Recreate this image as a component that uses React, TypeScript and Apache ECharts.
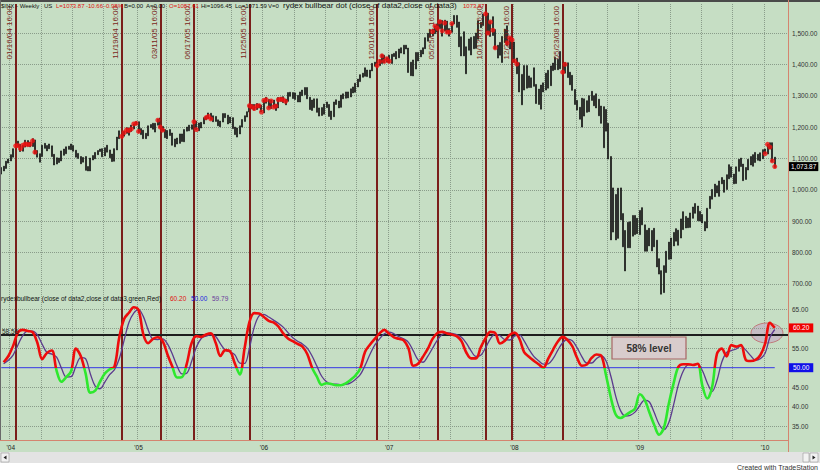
import React, { useEffect, useRef } from "react";
import * as echarts from "echarts";

// ---------- DATA ----------
const START_WEEK = [2003, 11, 5]; // first weekly bar (Fri 5 Dec 2003)
const EXTRA_WEEKS = 5; // empty space to the right of the last bar

const weekHigh = [
  1071, 1075, 1091, 1098,
  1112, 1131, 1141, 1155, 1145, 1143, 1158, 1157, 1152, 1163, 1159, 1125, 1115, 1142, 1148, 1141, 1146, 1140, 1113, 1102, 1101, 1124, 1130, 1137, 1139, 1146, 1141, 1126, 1116, 1106, 1103, 1106, 1074, 1101, 1109, 1119, 1125, 1130, 1131, 1134, 1142, 1127, 1114, 1131, 1168, 1188, 1185, 1186, 1198, 1197, 1206, 1210, 1217,
  1217, 1195, 1190, 1180, 1204, 1208, 1212, 1212, 1225, 1229, 1202, 1192, 1189, 1192, 1181, 1162, 1165, 1178, 1178, 1192, 1200, 1206, 1207, 1220, 1219, 1213, 1215, 1230, 1234, 1245, 1244, 1236, 1234, 1223, 1219, 1243, 1243, 1238, 1232, 1230, 1200, 1197, 1204, 1224, 1236, 1249, 1270, 1272, 1272, 1275, 1272, 1270,
  1286, 1295, 1288, 1286, 1286, 1272, 1294, 1295, 1297, 1289, 1310, 1311, 1310, 1309, 1301, 1312, 1318, 1326, 1326, 1295, 1286, 1290, 1290, 1261, 1262, 1273, 1280, 1272, 1251, 1280, 1287, 1283, 1302, 1306, 1312, 1312, 1322, 1328, 1340, 1353, 1367, 1372, 1389, 1382, 1382, 1403, 1407, 1403, 1415, 1431, 1429, 1421,
  1429, 1432, 1435, 1441, 1449, 1453, 1461, 1461, 1452, 1407, 1414, 1438, 1438, 1445, 1453, 1485, 1499, 1510, 1513, 1523, 1529, 1540, 1540, 1541, 1538, 1514, 1532, 1556, 1556, 1535, 1488, 1504, 1456, 1481, 1486, 1489, 1500, 1539, 1534, 1561, 1576, 1563, 1537, 1552, 1511, 1461, 1470, 1489, 1512, 1523, 1486, 1500,
  1471, 1420, 1405, 1368, 1396, 1396, 1363, 1357, 1389, 1336, 1321, 1334, 1341, 1372, 1381, 1395, 1404, 1422, 1416, 1441, 1428, 1406, 1405, 1375, 1365, 1320, 1285, 1263, 1292, 1290, 1284, 1300, 1314, 1300, 1306, 1289, 1267, 1265, 1256, 1212, 1106, 1006, 985, 1005, 1006, 924, 870, 896, 898, 918, 918, 909,
  934, 943, 888, 871, 877, 870, 877, 839, 780, 742, 758, 804, 833, 846, 864, 876, 871, 907, 930, 915, 910, 926, 945, 956, 948, 931, 921, 898, 941, 979, 1001, 1018, 1013, 1028, 1039, 1031, 1048, 1080, 1073, 1050, 1073, 1097, 1101, 1082, 1071, 1097, 1106, 1112, 1119, 1113, 1118, 1128,
  1130, 1145, 1150, 1150, 1104,
];

const weekLow = [
  1050, 1060, 1068, 1085,
  1092, 1104, 1113, 1137, 1122, 1123, 1136, 1139, 1137, 1138, 1115, 1104, 1088, 1106, 1132, 1124, 1131, 1106, 1079, 1082, 1087, 1092, 1110, 1115, 1129, 1128, 1123, 1104, 1100, 1083, 1088, 1062, 1060, 1060, 1095, 1099, 1112, 1122, 1105, 1108, 1120, 1102, 1090, 1091, 1127, 1163, 1169, 1171, 1180, 1174, 1186, 1194, 1208,
  1183, 1176, 1163, 1163, 1172, 1198, 1193, 1184, 1206, 1198, 1187, 1166, 1163, 1173, 1142, 1137, 1146, 1148, 1154, 1153, 1187, 1188, 1193, 1198, 1191, 1188, 1197, 1210, 1223, 1227, 1224, 1217, 1218, 1204, 1201, 1216, 1230, 1210, 1213, 1195, 1176, 1168, 1178, 1200, 1218, 1232, 1248, 1258, 1254, 1256, 1261, 1248,
  1245, 1276, 1260, 1259, 1263, 1253, 1261, 1282, 1278, 1271, 1282, 1298, 1291, 1288, 1280, 1280, 1300, 1303, 1290, 1256, 1253, 1262, 1247, 1235, 1237, 1241, 1262, 1234, 1224, 1233, 1272, 1261, 1263, 1290, 1292, 1293, 1296, 1309, 1311, 1328, 1345, 1359, 1362, 1361, 1357, 1379, 1394, 1385, 1396, 1403, 1405, 1407,
  1405, 1403, 1425, 1417, 1421, 1436, 1433, 1449, 1374, 1364, 1363, 1385, 1411, 1424, 1433, 1450, 1474, 1488, 1491, 1498, 1503, 1514, 1490, 1506, 1500, 1490, 1502, 1529, 1518, 1456, 1427, 1427, 1370, 1445, 1430, 1450, 1451, 1480, 1517, 1524, 1546, 1496, 1489, 1492, 1450, 1420, 1429, 1406, 1470, 1460, 1449, 1465,
  1407, 1370, 1312, 1271, 1318, 1324, 1326, 1326, 1330, 1275, 1272, 1257, 1312, 1318, 1324, 1332, 1380, 1383, 1383, 1386, 1373, 1372, 1358, 1335, 1317, 1272, 1254, 1225, 1200, 1235, 1247, 1249, 1285, 1268, 1261, 1236, 1212, 1134, 1187, 1098, 840, 865, 840, 845, 904, 818, 741, 815, 815, 852, 857, 860,
  857, 888, 804, 804, 821, 805, 818, 754, 731, 667, 672, 736, 778, 779, 821, 836, 823, 846, 873, 878, 879, 880, 909, 925, 901, 900, 894, 869, 878, 940, 970, 978, 990, 979, 1019, 992, 1001, 1035, 1040, 1019, 1020, 1059, 1074, 1029, 1033, 1063, 1079, 1075, 1087, 1094, 1092, 1099,
  1115, 1114, 1131, 1090, 1071,
];

const weekClose = [
  1061, 1074, 1088, 1095,
  1108, 1122, 1140, 1141, 1131, 1142, 1146, 1144, 1145, 1156, 1120, 1110, 1108, 1141, 1139, 1134, 1140, 1107, 1098, 1095, 1094, 1121, 1122, 1136, 1135, 1134, 1125, 1112, 1101, 1096, 1102, 1064, 1064, 1099, 1107, 1114, 1123, 1128, 1110, 1131, 1122, 1109, 1095, 1130, 1166, 1184, 1170, 1182, 1191, 1189, 1194, 1210, 1212,
  1186, 1185, 1168, 1171, 1203, 1205, 1201, 1211, 1222, 1200, 1190, 1172, 1172, 1182, 1143, 1153, 1157, 1172, 1155, 1190, 1198, 1196, 1201, 1217, 1192, 1212, 1212, 1228, 1230, 1234, 1226, 1230, 1220, 1205, 1218, 1241, 1237, 1215, 1229, 1195, 1186, 1179, 1199, 1220, 1235, 1248, 1268, 1265, 1259, 1267, 1268, 1248,
  1285, 1287, 1261, 1283, 1264, 1267, 1287, 1289, 1287, 1282, 1307, 1302, 1295, 1295, 1289, 1311, 1311, 1325, 1292, 1267, 1280, 1289, 1252, 1251, 1244, 1270, 1265, 1237, 1240, 1278, 1280, 1266, 1302, 1295, 1311, 1299, 1321, 1314, 1336, 1350, 1366, 1368, 1377, 1364, 1380, 1401, 1400, 1396, 1409, 1427, 1410, 1418,
  1410, 1430, 1431, 1423, 1449, 1438, 1456, 1451, 1388, 1402, 1386, 1437, 1421, 1444, 1452, 1484, 1494, 1505, 1505, 1522, 1515, 1536, 1507, 1532, 1503, 1503, 1530, 1552, 1534, 1459, 1433, 1453, 1445, 1479, 1474, 1453, 1484, 1525, 1527, 1557, 1561, 1500, 1535, 1509, 1453, 1458, 1440, 1481, 1504, 1468, 1484, 1478,
  1411, 1401, 1325, 1331, 1396, 1331, 1349, 1353, 1331, 1294, 1289, 1330, 1316, 1371, 1333, 1390, 1398, 1414, 1388, 1426, 1375, 1400, 1361, 1360, 1318, 1278, 1262, 1240, 1261, 1257, 1260, 1296, 1298, 1292, 1283, 1242, 1252, 1255, 1213, 1099, 899, 940, 877, 968, 930, 873, 800, 896, 876, 879, 887, 873,
  932, 890, 850, 832, 826, 869, 827, 770, 735, 683, 757, 768, 816, 843, 857, 870, 866, 877, 929, 883, 887, 919, 940, 946, 921, 918, 897, 880, 941, 979, 987, 1010, 1004, 1026, 1029, 1016, 1042, 1068, 1044, 1025, 1072, 1087, 1079, 1036, 1069, 1093, 1091, 1091, 1106, 1106, 1102, 1127,
  1115, 1145, 1136, 1092, 1073.87,
];

// rydex bull/bear oscillator, read every second week (odd week indices)
const OSC_FIRST_WEEK = 1;
const OSC_STEP = 2;
const bullbearRed = [
  51.4, 53.0, 55.7, 59.1, 59.7, 59.4, 59.1, 56.4, 52.2, 53.8,
  54.4, 49.2, 46.4, 47.6, 49.1, 54.9, 53.0, 48.6, 43.6, 44.1,
  46.4, 48.5, 49.6, 50.3, 57.8, 62.5, 64.1, 65.5, 64.8, 58.5,
  56.3, 57.4, 57.8, 56.8, 53.4, 50.3, 47.5, 47.6, 51.0, 56.3,
  58.1, 57.9, 58.5, 58.8, 56.4, 53.0, 54.5, 54.2, 51.0, 48.3,
  55.0, 61.7, 64.0, 63.9, 63.0, 62.0, 61.6, 60.6, 58.8, 57.5,
  56.8, 56.1, 55.4, 53.5, 50.0, 47.7, 45.6, 46.0, 45.8, 45.5,
  45.5, 46.0, 46.9, 48.0, 49.8, 54.1, 55.9, 57.4, 58.8, 59.7,
  58.7, 57.8, 57.4, 57.0, 55.0, 50.5, 51.0, 52.8, 54.8, 57.4,
  58.9, 59.2, 58.8, 58.5, 58.1, 56.8, 53.9, 52.4, 52.4, 55.2,
  57.6, 59.2, 58.9, 56.2, 56.9, 58.4, 59.0, 57.5, 54.0, 52.8,
  51.8, 50.9, 50.0, 52.3, 54.6, 56.7, 57.9, 57.1, 55.5, 52.5,
  50.5, 50.8, 52.5, 53.4, 53.1, 48.0, 42.3, 38.0, 37.1, 37.8,
  38.6, 39.5, 43.2, 41.8, 38.5, 35.3, 32.8, 34.6, 40.7, 45.9,
  50.2, 50.9, 50.9, 50.7, 51.0, 45.3, 42.1, 45.0, 53.5, 54.9,
  52.9, 55.8, 55.4, 55.8, 52.0, 51.7, 52.0, 53.2, 56.2, 61.5,
  60.2,
];
const bullbearAvg = [
  51.0, 51.9, 53.3, 55.9, 58.3, 59.4, 59.4, 58.4, 56.0, 53.9,
  53.5, 52.7, 49.9, 47.6, 47.7, 50.4, 52.6, 52.3, 48.4, 45.3,
  44.6, 46.3, 48.2, 49.5, 52.3, 57.0, 61.6, 64.0, 64.9, 63.1,
  59.7, 57.3, 57.2, 57.4, 56.1, 53.5, 50.4, 48.4, 48.6, 51.6,
  55.3, 57.5, 58.1, 58.4, 58.0, 56.1, 54.5, 54.0, 53.3, 51.2,
  51.1, 55.0, 60.4, 63.3, 63.7, 63.0, 62.2, 61.4, 60.4, 59.0,
  57.7, 56.8, 56.1, 55.0, 53.0, 50.4, 47.8, 46.4, 45.8, 45.8,
  45.6, 45.7, 46.1, 47.0, 48.2, 50.6, 53.4, 55.8, 57.4, 58.7,
  59.1, 58.7, 58.0, 57.4, 56.5, 54.3, 52.0, 51.4, 52.9, 55.0,
  57.1, 58.5, 59.0, 58.8, 58.5, 57.8, 56.3, 54.3, 52.9, 53.2,
  55.1, 57.4, 58.6, 58.2, 57.2, 57.1, 58.1, 58.4, 56.9, 54.7,
  52.9, 51.8, 50.9, 51.0, 52.3, 54.5, 56.4, 57.3, 56.9, 55.1,
  52.8, 51.2, 51.2, 52.3, 53.0, 51.7, 47.8, 42.7, 39.0, 37.6,
  37.8, 38.6, 40.3, 41.7, 41.2, 38.5, 35.5, 34.1, 35.9, 40.4,
  45.6, 49.1, 50.7, 50.8, 50.9, 49.2, 46.1, 43.9, 46.7, 51.4,
  53.9, 54.4, 54.8, 55.6, 54.5, 53.1, 51.9, 52.3, 53.7, 57.8,
  59.8,
];

// weeks flagged by "rydex bullbear dot"
const dotWeeks = [
  6, 7, 8, 9, 10, 11, 12, 13, 14,
  50, 51, 52, 53, 54, 55, 56, 57,
  65, 66, 67, 80, 81, 85, 86, 87,
  103, 104, 105, 106, 107, 108, 109, 110, 111, 112, 113, 114, 115, 116, 117, 118,
  156, 157, 158, 159, 160, 161,
  179, 180, 181, 182, 183, 184, 185, 186, 187,
  201, 202, 203, 204, 205,
  210, 211, 212, 213, 214,
  233, 234,
  317, 318, 319, 320, 321,
];

const signalWeeks = [6, 50, 66, 80, 103, 156, 181, 201, 212, 233];
const signalLabels = [
  "01/16/04 16:00", "11/19/04 16:00", "03/11/05 16:00", "06/17/05 16:00", "11/25/05 16:00",
  "12/01/06 16:00", "05/25/07 16:00", "10/12/07 16:00", "12/28/07 16:00", "05/23/08 16:00",
];

const priceTicks = [700, 800, 900, 1000, 1100, 1200, 1300, 1400, 1500];
const oscGridLevels = [35, 40, 45, 55, 60, 65];
const oscHiddenLabel = 60; // covered by the red value tag
const LEVEL_HIGH = 58.56;
const LEVEL_MID = 50;
const lastOscAvg = 59.79;

const headerParts: [string, string][] = [
  ["$INX - Weekly", "#111"], ["US", "#111"], ["L=1073.87", "#e01010"], ["-10.66", "#e01010"],
  ["-0.98%", "#e01010"], ["B=0.00", "#111"], ["A=0.00", "#111"], ["O=1087.61", "#e01010"],
  ["Hi=1096.45", "#111"], ["Lo=1071.59", "#111"], ["V=0", "#111"],
  ["rydex bullbear dot (close of data2,close of data3)", "#111"], ["1073.87", "#e01010"],
];
const headerX = [1, 44, 56, 86, 104, 124, 146, 169, 201, 235, 268, 283, 463];

// ---------- STYLE ----------
const BG = "#c6dec4";
const GRID_C = "#8a9c8a";
const SIG_C = "#7a1e1a";
const AXIS_C = "#d4846f";
const FONT = "Liberation Sans, Arial, sans-serif";
const CLEAR = "rgba(0,0,0,0)";

const fmt2 = (v: number) =>
  v.toLocaleString("en-US", { minimumFractionDigits: 2, maximumFractionDigits: 2 });

export default function App() {
  const ref = useRef<HTMLDivElement>(null);

  useEffect(() => {
    const chart = echarts.init(ref.current!, null, { renderer: "svg" });

    const n = weekClose.length + EXTRA_WEEKS;
    const t0 = Date.UTC(START_WEEK[0], START_WEEK[1], START_WEEK[2]);
    const cats = Array.from({ length: n }, (_, i) =>
      new Date(t0 + i * 7 * 86400000).toISOString().slice(0, 10)
    );
    const yearOf = (s: string) => +s.slice(0, 4);
    const monOf = (s: string) => +s.slice(5, 7);
    const isYearStart = (i: number) => i > 0 && yearOf(cats[i]) !== yearOf(cats[i - 1]);
    const isQuarterStart = (i: number) =>
      i > 0 && monOf(cats[i]) !== monOf(cats[i - 1]) && [1, 4, 7, 10].includes(monOf(cats[i]));

    const lastIdx = weekClose.length - 1;
    const lastClose = weekClose[lastIdx];
    const lastRed = bullbearRed[bullbearRed.length - 1];

    const xBase = (gi: number) => ({
      type: "category" as const,
      gridIndex: gi,
      data: cats,
      boundaryGap: true,
      axisLine: { show: false },
      axisTick: { show: false },
      splitLine: {
        show: true,
        interval: (i: number) => isQuarterStart(i),
        lineStyle: { color: GRID_C, type: "dotted" as const, width: 1 },
      },
    });

    const dotted = { color: GRID_C, type: "dotted" as const, width: 1 };
    const axisTxt = { color: "#333", fontSize: 6.5, fontFamily: FONT };
    const tag = (text: string, bg: string, padX: number) => ({
      show: true,
      position: "end",
      distance: 1,
      formatter: text,
      backgroundColor: bg,
      color: "#fff",
      fontSize: 6.5,
      padding: [1, padX, 1, padX],
      fontFamily: FONT,
    });

    const option: any = {
      animation: false,
      backgroundColor: BG,
      textStyle: { fontFamily: FONT },
      grid: [
        { left: 0, top: 4, width: 788, height: 290 },
        { left: 0, top: 294, width: 788, height: 146 },
      ],
      xAxis: [
        { ...xBase(0), axisLabel: { show: false } },
        {
          ...xBase(1),
          axisLabel: {
            show: true,
            interval: (i: number) => isYearStart(i),
            formatter: (v: string) => "'" + v.slice(2, 4),
            fontSize: 6.5,
            color: "#222",
            margin: 4,
            fontFamily: FONT,
          },
        },
      ],
      yAxis: [
        {
          type: "value", gridIndex: 0, position: "right", min: 667.5, max: 1592.5,
          axisLine: { show: false }, axisTick: { show: false }, splitLine: { show: false },
          axisLabel: { show: false },
        },
        {
          type: "value", gridIndex: 1, position: "right", min: 31.46, max: 68.9,
          axisLine: { show: false }, axisTick: { show: false }, splitLine: { show: false },
          axisLabel: { show: false },
        },
      ],
      visualMap: {
        type: "piecewise",
        show: false,
        seriesIndex: 4,
        dimension: 1,
        pieces: [
          { gte: 0, lt: LEVEL_MID, color: "#2ee82e" },
          { gte: LEVEL_MID, lte: 100, color: "#ee0c0c" },
        ],
      },
      series: [
        // 0: price bars (+ horizontal grid and price labels)
        {
          type: "candlestick",
          xAxisIndex: 0,
          yAxisIndex: 0,
          z: 3,
          barWidth: 1.5,
          data: weekLow.map((l, i) => [l, weekHigh[i], l, weekHigh[i]]),
          itemStyle: {
            color: "#141414", color0: "#141414",
            borderColor: "#141414", borderColor0: "#141414", borderWidth: 0.7,
          },
          markLine: {
            silent: true,
            z: 1,
            symbol: ["none", "none"],
            animation: false,
            data: [
              ...priceTicks.map((v) => ({
                yAxis: v,
                lineStyle: dotted,
                label: { show: true, position: "end", distance: 4, formatter: fmt2(v), ...axisTxt },
              })),
              { yAxis: lastClose, lineStyle: { color: CLEAR, width: 1 }, label: tag(fmt2(lastClose), "#000", 2) },
            ],
          },
        },
        // 1: dots (+ signal lines)
        {
          type: "scatter",
          xAxisIndex: 0,
          yAxisIndex: 0,
          z: 5,
          symbolSize: 5,
          itemStyle: { color: "#f01010" },
          data: dotWeeks.map((w) => [w, weekClose[w]]),
          markLine: {
            silent: true,
            z: 4,
            symbol: ["none", "none"],
            animation: false,
            data: signalWeeks.map((w, j) => ({
              xAxis: cats[w],
              lineStyle: { color: SIG_C, width: 2, type: "solid" },
              label: {
                show: true,
                position: "insideEndTop",
                formatter: signalLabels[j],
                color: SIG_C,
                fontSize: 8,
                fontFamily: FONT,
                distance: 2,
              },
            })),
          },
        },
        // 2: 50 level line (+ 58.56 level, signal lines, value tags)
        {
          type: "line",
          xAxisIndex: 1,
          yAxisIndex: 1,
          z: 3,
          showSymbol: false,
          lineStyle: { color: "#3535e6", width: 1 },
          data: [[0, LEVEL_MID], [lastIdx, LEVEL_MID]],
          markLine: {
            silent: true,
            z: 6,
            symbol: ["none", "none"],
            animation: false,
            data: [
              ...signalWeeks.map((w) => ({
                xAxis: cats[w],
                lineStyle: { color: SIG_C, width: 2, type: "solid" },
                label: { show: false },
              })),
              {
                yAxis: LEVEL_HIGH,
                lineStyle: { color: "#1e1e1e", width: 2, type: "solid" },
                label: { show: false },
              },
              { yAxis: lastRed, lineStyle: { color: CLEAR, width: 1 }, label: tag(lastRed.toFixed(2), "#f00000", 4) },
              { yAxis: LEVEL_MID, lineStyle: { color: CLEAR, width: 1 }, label: tag(LEVEL_MID.toFixed(2), "#1010e8", 4) },
            ],
          },
        },
        // 3: purple average (+ oscillator grid and labels)
        {
          type: "line",
          xAxisIndex: 1,
          yAxisIndex: 1,
          z: 7,
          showSymbol: false,
          smooth: 0.35,
          lineStyle: { color: "#5b3a8e", width: 1.3 },
          data: bullbearAvg.map((v, k) => [OSC_FIRST_WEEK + OSC_STEP * k, v]),
          markLine: {
            silent: true,
            z: 1,
            symbol: ["none", "none"],
            animation: false,
            data: oscGridLevels.map((v) => ({
              yAxis: v,
              lineStyle: dotted,
              label: {
                show: v !== oscHiddenLabel,
                position: "end",
                distance: 4,
                formatter: v.toFixed(2),
                ...axisTxt,
              },
            })),
          },
        },
        // 4: red/green oscillator
        {
          type: "line",
          xAxisIndex: 1,
          yAxisIndex: 1,
          z: 8,
          showSymbol: false,
          smooth: 0.35,
          lineStyle: { width: 2.6 },
          data: bullbearRed.map((v, k) => [OSC_FIRST_WEEK + OSC_STEP * k, v]),
        },
      ],
      graphic: [
        // frame
        { type: "rect", z: 20, shape: { x: 0, y: 0, width: 820, height: 2 }, style: { fill: "#4a4a4a" } },
        { type: "rect", z: 20, shape: { x: 0, y: 0, width: 1, height: 441 }, style: { fill: "#6a6a6a" } },
        { type: "line", z: 20, shape: { x1: 788.5, y1: 0, x2: 788.5, y2: 452 }, style: { stroke: AXIS_C, lineWidth: 1 } },
        { type: "line", z: 20, shape: { x1: 0, y1: 440.5, x2: 788, y2: 440.5 }, style: { stroke: AXIS_C, lineWidth: 1 } },
        // scroll bar + footer
        { type: "rect", z: 20, shape: { x: 0, y: 452, width: 820, height: 11 }, style: { fill: "#e3e3e3" } },
        { type: "rect", z: 21, shape: { x: 1, y: 453, width: 8, height: 9 }, style: { fill: "#f2f2f2", stroke: "#999", lineWidth: 0.6 } },
        { type: "polygon", z: 22, shape: { points: [[6.5, 455.5], [3.5, 457.5], [6.5, 459.5]] }, style: { fill: "#222" } },
        { type: "rect", z: 21, shape: { x: 803, y: 453, width: 6, height: 9 }, style: { fill: "#f2f2f2", stroke: "#999", lineWidth: 0.6 } },
        { type: "rect", z: 21, shape: { x: 810, y: 453, width: 8, height: 9 }, style: { fill: "#f2f2f2", stroke: "#999", lineWidth: 0.6 } },
        { type: "polygon", z: 22, shape: { points: [[812.5, 455.5], [815.5, 457.5], [812.5, 459.5]] }, style: { fill: "#222" } },
        { type: "rect", z: 20, shape: { x: 0, y: 463, width: 820, height: 8 }, style: { fill: "#ffffff" } },
        {
          type: "text", z: 22, x: 818, y: 467,
          style: { text: "Created with TradeStation", fill: "#333", font: `7px ${FONT}`, align: "right", verticalAlign: "middle" },
        },
        // headers
        ...headerParts.map(([t, c], i) => {
          const long = t.length > 20;
          return {
            type: "text", z: 22, x: headerX[i], y: 5.5,
            scaleX: long ? 1.15 : 1,
            style: { text: t, fill: c, font: `${long ? 7 : 6}px ${FONT}`, verticalAlign: "middle" },
          };
        }),
        {
          type: "text", z: 22, x: 1, y: 298.5,
          style: { text: "rydexbullbear (close of data2,close of data3,green,Red)", fill: "#111", font: `6.5px ${FONT}`, verticalAlign: "middle" },
        },
        { type: "text", z: 22, x: 170, y: 298.5, style: { text: lastRed.toFixed(2), fill: "#e01010", font: `6.5px ${FONT}`, verticalAlign: "middle" } },
        { type: "text", z: 22, x: 191, y: 298.5, style: { text: LEVEL_MID.toFixed(2), fill: "#2020e0", font: `6.5px ${FONT}`, verticalAlign: "middle" } },
        { type: "text", z: 22, x: 212, y: 298.5, style: { text: lastOscAvg.toFixed(2), fill: "#6a3a9a", font: `6.5px ${FONT}`, verticalAlign: "middle" } },
        { type: "text", z: 22, x: 2, y: 331, style: { text: LEVEL_HIGH.toFixed(2), fill: "#222", font: `6.5px ${FONT}`, verticalAlign: "middle" } },
        // annotations
        {
          type: "ellipse", z: 1,
          shape: { cx: 767, cy: 333, rx: 16, ry: 10 },
          style: { fill: "rgba(196,178,196,0.75)", stroke: "#c07a7a", lineWidth: 1 },
        },
        {
          type: "rect", z: 22,
          shape: { x: 612, y: 337, width: 74, height: 22 },
          style: { fill: "#d8cccc", stroke: "#a86464", lineWidth: 1.2 },
        },
        {
          type: "text", z: 23, x: 649, y: 348,
          style: { text: "58% level", fill: "#333", font: `bold 10px ${FONT}`, align: "center", verticalAlign: "middle" },
        },
      ],
    };

    chart.setOption(option);
    return () => chart.dispose();
  }, []);

  return <div ref={ref} style={{ position: "fixed", left: 0, top: 0, width: 820, height: 471 }} />;
}
